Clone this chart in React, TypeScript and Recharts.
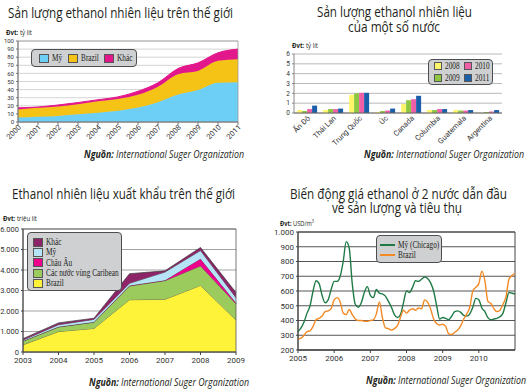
import React from 'react';
import {
  AreaChart,
  Area,
  BarChart,
  Bar,
  LineChart,
  Line,
  XAxis,
  YAxis,
  CartesianGrid,
  ReferenceArea,
} from 'recharts';

// Panel 1: world fuel ethanol output (billion litres)
const worldYears = ['2000', '2001', '2002', '2003', '2004', '2005', '2006', '2007', '2008', '2009', '2010', '2011'];
const worldUs = [5.5, 6.5, 7.5, 9.5, 11.5, 14, 18, 24.5, 34, 39.5, 48.5, 49];
const worldBrazil = [10, 11, 11.5, 12.5, 14, 14.5, 15.5, 19, 25, 23.5, 27, 28.5];
const worldOther = [2, 1, 2, 2, 2, 2.5, 4.5, 5, 7, 10, 10, 12.5];

// Panel 2: output by country (billion litres)
const countries = ['Ấn Độ', 'Thái Lan', 'Trung Quốc', 'Úc', 'Canada', 'Columbia', 'Guatemala', 'Argentina'];
const y2008 = [0.3, 0.3, 1.85, 0.1, 0.9, 0.3, 0.3, 0.02];
const y2009 = [0.2, 0.4, 2.0, 0.2, 1.3, 0.3, 0.25, 0.1];
const y2010 = [0.4, 0.4, 2.05, 0.25, 1.4, 0.4, 0.25, 0.15];
const y2011 = [0.75, 0.45, 2.05, 0.45, 1.75, 0.4, 0.3, 0.3];

// Panel 3: exports (million litres)
const exportYears = ['2003', '2004', '2005', '2006', '2007', '2008', '2009'];
const exBrazil = [350, 1000, 1150, 2550, 2570, 3250, 1560];
const exCaribbean = [180, 220, 300, 670, 910, 950, 790];
const exEurope = [10, 10, 10, 30, 20, 350, 50];
const exUs = [40, 100, 130, 100, 400, 400, 250];
const exOther = [70, 90, 60, 470, 60, 150, 250];

// Panel 4: monthly prices Jan 2005 - Jan 2011 (USD/m3)
const priceYears = [2005, 2006, 2007, 2008, 2009, 2010];
const priceChicago = [
  325, 350, 390, 450, 500, 600, 670, 650, 570, 520, 540, 610,
  665, 665, 700, 800, 935, 890, 650, 510, 490, 520, 590, 630,
  570, 555, 610, 585, 580, 565, 530, 490, 440, 420, 440, 520,
  600, 590, 625, 670, 665, 680, 695, 685, 655, 600, 500, 410,
  420, 415, 405, 430, 460, 465, 455, 435, 430, 445, 490, 550,
  540, 485, 460, 420, 405, 410, 415, 425, 450, 520, 590, 585,
  580,
];
const priceBrazil = [
  275, 280, 300, 325, 330, 360, 405, 415, 430, 460, 465, 480,
  540, 555, 525, 450, 440, 475, 440, 410, 400, 400, 395, 395,
  400, 405, 445, 525, 420, 350, 345, 335, 345, 365, 420, 470,
  450, 470, 480, 470, 485, 480, 540, 525, 480, 410, 380, 370,
  375, 360, 310, 305, 320, 335, 365, 410, 445, 490, 600, 625,
  650, 735, 670, 530, 515, 480, 460, 470, 510, 560, 680, 705,
  720,
];

const worldSeries = [
  { key: 'us', name: 'Mỹ', color: '#6DCFF6' },
  { key: 'brazil', name: 'Brazil', color: '#F5C316' },
  { key: 'other', name: 'Khác', color: '#E3178C' },
];
const countrySeries = [
  { key: 'y2008', name: '2008', color: '#FFF56A' },
  { key: 'y2009', name: '2009', color: '#8DC63F' },
  { key: 'y2010', name: '2010', color: '#EE5FA7' },
  { key: 'y2011', name: '2011', color: '#1B5FAA' },
];
const exportSeries = [
  { key: 'brazil', name: 'Brazil', color: '#FFF33A' },
  { key: 'caribbean', name: 'Các nước vùng Caribean', color: '#9BCB5C' },
  { key: 'europe', name: 'Châu Âu', color: '#EC008C' },
  { key: 'us', name: 'Mỹ', color: '#B5E4F6' },
  { key: 'other', name: 'Khác', color: '#8C2467' },
];
const priceSeries = [
  { key: 'us', name: 'Mỹ (Chicago)', color: '#1F7A46' },
  { key: 'brazil', name: 'Brazil', color: '#F38A26' },
];

const worldData = worldYears.map((year, i) => ({ year, us: worldUs[i], brazil: worldBrazil[i], other: worldOther[i] }));
const countryData = countries.map((name, i) => ({ name, y2008: y2008[i], y2009: y2009[i], y2010: y2010[i], y2011: y2011[i] }));
const exportData = exportYears.map((year, i) => ({
  year,
  brazil: exBrazil[i],
  caribbean: exCaribbean[i],
  europe: exEurope[i],
  us: exUs[i],
  other: exOther[i],
}));
const priceData = priceChicago.map((v, i) => ({ t: 2005 + i / 12, us: v, brazil: priceBrazil[i] }));

const dotThousands = (v: number) =>
  v >= 1000 ? `${Math.floor(v / 1000)}.${String(v % 1000).padStart(3, '0')}` : `${v}`;

const tickFont = { fontFamily: 'Roboto, sans-serif', fontSize: 7.5, fill: '#333' };
const sans = '"Open Sans", "Noto Sans", sans-serif';
const serif = '"Liberation Serif", "DejaVu Serif", serif';

// slanted category label, ending just below its tick
function SlantTick(props: any) {
  const { x, y, payload, fontSize = 7 } = props;
  return (
    <g transform={`translate(${x},${y})`}>
      <text x={0} y={0} dx={2} dy={3} textAnchor="end" transform="rotate(-45)" fontFamily="Roboto, sans-serif" fontSize={fontSize} fill="#333">
        {payload.value}
      </text>
    </g>
  );
}

function Texts() {
  const title = { fontFamily: sans, fontSize: 14, fill: '#231f20' };
  const unit = { fontFamily: sans, fontSize: 7.5, fill: '#231f20' };
  const src = { fontFamily: sans, fontSize: 10.5, fill: '#231f20', fontStyle: 'italic' as const };
  const source = (x: number, y: number) => (
    <text x={x} y={y} {...src} textLength={160} lengthAdjust="spacingAndGlyphs">
      <tspan fontWeight="bold">Nguồn:</tspan> International Suger Organization
    </text>
  );
  return (
    <svg width={530} height={391} style={{ position: 'absolute', left: 0, top: 0, pointerEvents: 'none' }}>
      <text x={8} y={17.5} {...title} textLength={225} lengthAdjust="spacingAndGlyphs">Sản lượng ethanol nhiên liệu trên thế giới</text>
      <text x={6} y={35} {...unit} textLength={26} lengthAdjust="spacingAndGlyphs"><tspan fontWeight="bold">Đvt:</tspan> tỷ lít</text>
      {source(84, 158)}

      <text x={317} y={17} {...title} textLength={155} lengthAdjust="spacingAndGlyphs">Sản lượng ethanol nhiên liệu</text>
      <text x={348} y={32} {...title} textLength={92} lengthAdjust="spacingAndGlyphs">của một số nước</text>
      <text x={292} y={48} {...unit} textLength={26} lengthAdjust="spacingAndGlyphs"><tspan fontWeight="bold">Đvt:</tspan> tỷ lít</text>
      {source(364, 158)}

      <text x={12} y={199} {...title} textLength={223} lengthAdjust="spacingAndGlyphs">Ethanol nhiên liệu xuất khẩu trên thế giới</text>
      <text x={3} y={221} {...unit} textLength={34} lengthAdjust="spacingAndGlyphs"><tspan fontWeight="bold">Đvt:</tspan> triệu lít</text>
      {source(89, 386)}

      <text x={290} y={199} {...title} textLength={217} lengthAdjust="spacingAndGlyphs">Biến động giá ethanol ở 2 nước dẫn đầu</text>
      <text x={332} y={213} {...title} textLength={130} lengthAdjust="spacingAndGlyphs">về sản lượng và tiêu thụ</text>
      <text x={280} y={226} {...unit} textLength={34} lengthAdjust="spacingAndGlyphs"><tspan fontWeight="bold">Đvt:</tspan> USD/m<tspan dy={-3} fontSize={5}>3</tspan></text>
      {source(366, 384)}
    </svg>
  );
}

const legendBox: React.CSSProperties = {
  position: 'absolute',
  background: '#CFD0D2',
  border: '1px solid #4d4d4f',
  borderRadius: 4,
  boxSizing: 'border-box',
  fontFamily: serif,
  fontSize: 9.5,
  color: '#231f20',
  whiteSpace: 'nowrap',
};

function Label({ text }: { text: string }) {
  return <span style={{ display: 'inline-block', flex: 'none', transform: 'scaleX(0.77)', transformOrigin: 'left center' }}>{text}</span>;
}

function Swatch({ color, w = 8, h = 7 }: { color: string; w?: number; h?: number }) {
  return <span style={{ display: 'inline-block', flex: 'none', width: w, height: h, background: color, border: '0.5px solid #555', marginRight: 3 }} />;
}

export default function App() {
  return (
    <div style={{ position: 'absolute', left: 0, top: 0, width: 530, height: 391, background: '#fff', overflow: 'hidden' }}>
      {/* Panel 1 */}
      <div style={{ position: 'absolute', left: 0, top: 0 }}>
        <AreaChart width={250} height={150} data={worldData} margin={{ top: 41, right: 12, bottom: 0, left: 0 }}>
          <CartesianGrid vertical={false} stroke="#c9c9c9" strokeWidth={0.8} />
          <XAxis dataKey="year" height={28} interval={0} tick={<SlantTick fontSize={7.5} />} tickSize={3} stroke="#777" />
          <YAxis
            width={18}
            domain={[0, 100]}
            interval={0}
            ticks={[0, 10, 20, 30, 40, 50, 60, 70, 80, 90, 100]}
            tick={{ ...tickFont, fontSize: 6 }}
            tickSize={2}
            stroke="#777"
          />
          {worldSeries.map((s) => (
            <Area key={s.key} type="monotone" dataKey={s.key} stackId="a" fill={s.color} fillOpacity={1} stroke={s.color} isAnimationActive={false} />
          ))}
          <ReferenceArea x1="2000" x2="2011" y1={0} y2={100} fill="none" stroke="#999" strokeWidth={0.8} />
        </AreaChart>
      </div>
      <div style={{ ...legendBox, left: 31, top: 49, width: 106, height: 18, display: 'flex', alignItems: 'center', paddingLeft: 7 }}>
        {worldSeries.map((s) => (
          <span key={s.key} style={{ display: 'flex', alignItems: 'center', width: s.name === 'Brazil' ? 36 : 29 }}>
            <Swatch color={s.color} w={8} h={7} />
            <Label text={s.name} />
          </span>
        ))}
      </div>

      {/* Panel 2 */}
      <div style={{ position: 'absolute', left: 265, top: 0 }}>
        <BarChart width={265} height={150} data={countryData} margin={{ top: 54, right: 28, bottom: 0, left: 0 }} barCategoryGap="12%" barGap={0}>
          <CartesianGrid vertical={false} stroke="#a7a7a7" strokeWidth={0.8} />
          <XAxis dataKey="name" height={37} interval={0} tick={<SlantTick fontSize={7.5} />} tickSize={3} tickLine={false} stroke="#666" />
          <YAxis width={29} domain={[0, 6]} interval={0} ticks={[0, 1, 2, 3, 4, 5, 6]} tick={{ ...tickFont, fontSize: 6.5 }} tickSize={2} stroke="#888" />
          {countrySeries.map((s) => (
            <Bar key={s.key} dataKey={s.key} fill={s.color} isAnimationActive={false} />
          ))}
        </BarChart>
      </div>
      <div style={{ ...legendBox, left: 428, top: 59, width: 65, height: 26, display: 'grid', gridTemplateColumns: '1fr 1fr', alignContent: 'center', paddingLeft: 5, rowGap: 2 }}>
        {[countrySeries[0], countrySeries[2], countrySeries[1], countrySeries[3]].map((s) => (
          <span key={s.key} style={{ display: 'flex', alignItems: 'center', lineHeight: '10px' }}>
            <Swatch color={s.color} w={6} h={6} />
            <Label text={s.name} />
          </span>
        ))}
      </div>

      {/* Panel 3 */}
      <div style={{ position: 'absolute', left: 0, top: 180 }}>
        <AreaChart width={250} height={190} data={exportData} margin={{ top: 49, right: 14, bottom: 0, left: 0 }}>
          <CartesianGrid vertical={false} stroke="#8a8a8a" strokeWidth={0.8} />
          <XAxis dataKey="year" height={18} interval={0} tick={{ ...tickFont, fontSize: 8 }} tickSize={3} stroke="#444" />
          <YAxis width={23} domain={[0, 6000]} interval={0} ticks={[0, 1000, 2000, 3000, 4000, 5000, 6000]} tickFormatter={dotThousands} tick={{ ...tickFont, fontSize: 7.5 }} tickSize={2} stroke="#444" />
          {exportSeries.map((s) => (
            <Area key={s.key} type="linear" dataKey={s.key} stackId="a" fill={s.color} fillOpacity={1} stroke="#3b3b3b" strokeWidth={0.7} isAnimationActive={false} />
          ))}
          <ReferenceArea x1="2003" x2="2009" y1={0} y2={6000} fill="none" stroke="#555" strokeWidth={0.8} />
        </AreaChart>
      </div>
      <div style={{ ...legendBox, left: 27, top: 232, width: 95, height: 59, paddingLeft: 5, paddingTop: 4 }}>
        {[...exportSeries].reverse().map((s) => (
          <div key={s.key} style={{ display: 'flex', alignItems: 'center', height: 10.3 }}>
            <Swatch color={s.color} w={8} h={7} />
            <Label text={s.name} />
          </div>
        ))}
      </div>

      {/* Panel 4 */}
      <div style={{ position: 'absolute', left: 265, top: 180 }}>
        <LineChart width={265} height={190} data={priceData} margin={{ top: 52, right: 15, bottom: 0, left: 0 }}>
          <CartesianGrid vertical={false} stroke="#555" strokeWidth={1} />
          <XAxis dataKey="t" type="number" domain={[2005, 2011]} ticks={priceYears} interval={0} height={20} tick={{ ...tickFont, fontSize: 8 }} tickSize={3} stroke="#444" />
          <YAxis width={33} domain={[200, 1000]} interval={0} ticks={[200, 300, 400, 500, 600, 700, 800, 900, 1000]} tickFormatter={dotThousands} tick={{ ...tickFont, fontSize: 8 }} tickSize={2} stroke="#444" />
          <ReferenceArea x1={2005} x2={2011} y1={200} y2={1000} fill="none" stroke="#444" strokeWidth={1} />
          {priceSeries.map((s) => (
            <Line key={s.key} type="monotone" dataKey={s.key} stroke={s.color} strokeWidth={1.4} dot={false} isAnimationActive={false} />
          ))}
        </LineChart>
      </div>
      <div style={{ ...legendBox, left: 376, top: 235, width: 66, height: 28, paddingLeft: 3, paddingTop: 4 }}>
        {priceSeries.map((s) => (
          <div key={s.key} style={{ display: 'flex', alignItems: 'center', height: 10 }}>
            <span style={{ display: 'inline-block', flex: 'none', width: 15, height: 1.5, background: s.color, marginRight: 3 }} />
            <Label text={s.name} />
          </div>
        ))}
      </div>

      <Texts />
    </div>
  );
}
